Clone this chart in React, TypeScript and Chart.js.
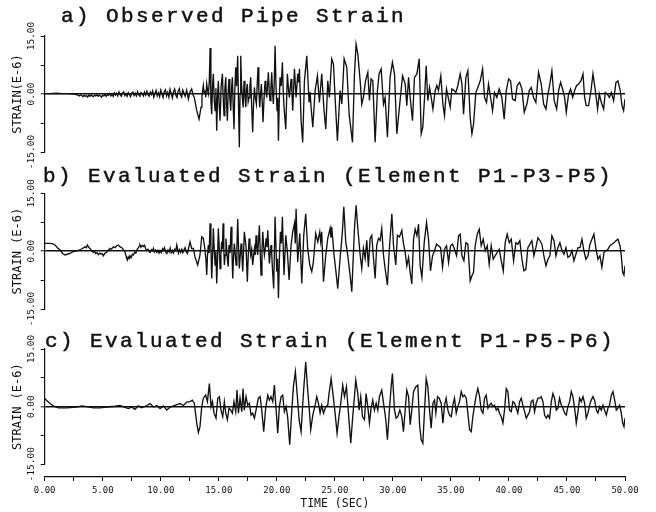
import React, { useEffect, useRef } from 'react';
import { Chart, registerables } from 'chart.js';

Chart.register(...registerables);

// [time (sec), strain (E-6)]
const observedPipeStrain: [number, number][] = [
  [0,0.1],[0.5,0.1],[1,0.2],[1.5,0.1],[2,0.1],[2.5,0],[2.8,-0.2],[3,-0.5],[3.1,-0.2],[3.2,-0.4],
  [3.3,-0.7],[3.4,-0.3],[3.5,-0.6],[3.6,-0.4],[3.7,-0.8],[3.8,-0.3],[3.9,-0.6],[4,-0.2],[4.1,-0.5],[4.2,-0.7],
  [4.3,-0.3],[4.4,-0.5],[4.5,-0.2],[4.6,-0.6],[4.7,-0.3],[4.8,-0.5],[4.9,-0.8],[5,-0.3],[5.1,-0.5],[5.2,-0.1],
  [5.3,-0.6],[5.4,-0.2],[5.5,-0.3],[5.6,0.1],[5.7,-0.5],[5.8,-0.1],[5.9,-0.6],[6,0.3],[6.1,-0.3],[6.2,0.2],
  [6.3,-0.5],[6.4,0.5],[6.5,-0.2],[6.6,-0.6],[6.7,0.3],[6.8,0.6],[6.9,-0.4],[7,0.1],[7.1,-0.6],[7.2,0.4],
  [7.3,-0.2],[7.4,-0.7],[7.5,0.3],[7.6,0.5],[7.7,-0.4],[7.8,0.2],[7.9,-0.5],[8,0.6],[8.1,-0.2],[8.2,-0.6],
  [8.3,0.4],[8.4,0.1],[8.5,-0.5],[8.6,0.5],[8.7,-0.3],[8.8,0.7],[8.9,-0.2],[9,-0.6],[9.1,0.5],[9.2,-0.1],
  [9.3,0.8],[9.4,-0.8],[9.5,0.2],[9.6,0.9],[9.7,-0.5],[9.8,0.3],[9.9,-0.7],[10,1.0],[10.1,0],[10.2,-0.9],
  [10.3,0.6],[10.4,1.1],[10.5,-0.5],[10.6,0.4],[10.7,-0.8],[10.8,1.2],[10.9,0.1],[11,-1.0],[11.1,0.6],[11.2,1.3],
  [11.3,-0.3],[11.4,-0.9],[11.5,0.8],[11.6,1.4],[11.7,-0.2],[11.8,-0.8],[11.9,1.0],[12,0.2],[12.1,-0.6],[12.23,1.0],
  [12.38,-1.3],[12.5,0.4],[12.66,1.3],[12.78,-0.2],[12.89,-0.9],[13.1,-4.3],[13.3,-6.5],[13.47,-3.4],[13.55,-0.5],[13.67,2.2],
  [13.74,0.2],[13.81,0.9],[13.88,-0.8],[13.96,2.6],[14.03,1.0],[14.1,0],[14.18,3.0],[14.25,11.9],[14.32,-2.0],[14.39,-5.2],
  [14.46,2.0],[14.53,5.2],[14.6,-1.0],[14.68,-4.3],[14.75,1.5],[14.82,-9.5],[14.89,-1.0],[14.96,3.4],[15.03,-2.5],[15.11,-6.9],
  [15.2,2.0],[15.31,5.2],[15.38,-1.0],[15.45,-5.6],[15.52,1.0],[15.6,4.3],[15.67,-2.5],[15.74,-6.9],[15.81,0.5],[15.88,3.9],
  [15.95,-1.0],[16.03,-4.3],[16.1,1.5],[16.17,4.3],[16.24,-3.0],[16.31,-9.1],[16.38,1.0],[16.46,6.9],[16.53,2.0],[16.63,9.9],
  [16.7,-3.0],[16.77,-13.8],[16.83,0],[16.89,9.9],[16.96,2.5],[17.03,-0.9],[17.1,-3.5],[17.18,3.4],[17.25,0],[17.32,-3.4],
  [17.39,1.0],[17.46,2.6],[17.53,-2.0],[17.61,-0.9],[17.68,2.0],[17.75,4.3],[17.83,-3.0],[17.92,-9.9],[18,-2.0],[18.07,1.7],
  [18.15,-1.0],[18.24,-2.6],[18.31,2.5],[18.38,6.9],[18.45,1.0],[18.53,-3.4],[18.6,0],[18.67,2.6],[18.74,-2.0],[18.81,-7.3],
  [18.9,-1.0],[18.99,3.4],[19.06,1.0],[19.13,-0.9],[19.2,2.0],[19.27,5.6],[19.35,0.5],[19.42,-1.7],[19.49,1.5],[19.56,5.6],
  [19.63,0.5],[19.7,-2.6],[19.78,3.0],[19.85,12.5],[19.93,2.0],[20.02,-4.3],[20.08,-1.0],[20.14,-12.1],[20.21,-2.0],[20.28,4.3],
  [20.38,2.0],[20.48,8.2],[20.55,1.0],[20.62,-3.4],[20.77,-9.1],[20.91,5.2],[21.0,1.5],[21.08,-0.9],[21.23,3.9],[21.3,0.5],
  [21.37,-4.3],[21.52,6.5],[21.66,-0.9],[21.8,5.2],[21.88,3.0],[21.95,6.5],[22.09,-6.9],[22.23,-12.5],[22.38,3.4],[22.58,9.9],
  [22.78,-2.2],[22.87,0.5],[22.95,-3.4],[23.1,-8.6],[23.3,0.9],[23.5,4.7],[23.67,-2.2],[23.87,5.2],[24.07,-4.3],[24.22,-9.1],
  [24.39,3.4],[24.53,-0.9],[24.73,9.1],[24.88,7.8],[25.02,-0.9],[25.22,-12.1],[25.45,0.9],[25.6,-2.6],[25.8,9.1],[26.03,6.9],
  [26.23,-5.2],[26.52,-12.5],[26.69,5.2],[26.83,12.9],[26.98,10.3],[27.18,3.4],[27.32,-2.6],[27.46,-0.9],[27.64,3.4],[27.84,5.6],
  [27.98,-1.7],[28.12,3.9],[28.27,3.4],[28.47,-12.5],[28.67,0.9],[28.81,5.2],[28.99,6.5],[29.19,-2.6],[29.33,-0.9],[29.53,-11.2],
  [29.76,4.3],[29.96,8.2],[30.14,5.2],[30.34,-10.3],[30.62,-1.7],[30.83,4.7],[31.06,2.6],[31.2,-3.0],[31.35,4.3],[31.49,-0.9],
  [31.69,-6.9],[31.86,4.3],[32.07,5.2],[32.27,9.1],[32.44,-10.3],[32.58,-8.6],[32.73,-0.9],[32.87,7.3],[33.01,-1.7],[33.16,1.7],
  [33.3,-0.9],[33.45,-3.9],[33.65,0.9],[33.79,2.2],[33.93,0.9],[34.13,4.7],[34.31,-2.6],[34.45,-5.6],[34.62,1.3],[34.8,-1.3],
  [34.94,-3.4],[35.08,1.3],[35.23,1.0],[35.43,0.4],[35.6,2.2],[35.8,5.2],[35.95,2.6],[36.09,-5.2],[36.29,4.3],[36.46,6.0],
  [36.66,-6.0],[36.81,-10.3],[36.95,-7.8],[37.15,0.4],[37.32,1.7],[37.53,3.4],[37.73,6.5],[37.9,-0.9],[38.07,-2.2],[38.24,2.6],
  [38.42,-0.9],[38.59,-4.3],[38.76,0.4],[38.96,-0.9],[39.16,1.3],[39.39,-0.9],[39.59,-6.5],[39.77,0.9],[39.97,3.9],[40.14,3.4],
  [40.31,-1.3],[40.54,-1.7],[40.71,2.2],[40.92,3.0],[41.12,1.3],[41.32,-4.7],[41.55,-2.6],[41.75,0.9],[41.92,1.7],[42.12,-0.9],
  [42.32,-2.2],[42.55,5.6],[42.78,2.6],[42.99,-2.6],[43.19,-3.9],[43.36,0],[43.53,2.6],[43.7,6.0],[43.9,-1.7],[44.11,-3.9],
  [44.28,0.9],[44.45,3.0],[44.62,1.3],[44.8,-0.9],[44.94,-4.7],[45.14,0],[45.31,1.3],[45.49,-0.9],[45.66,0.9],[45.83,2.2],
  [46,2.6],[46.2,3.4],[46.38,5.2],[46.52,-0.9],[46.66,-3.0],[46.86,-3.0],[47.07,0.9],[47.24,5.2],[47.44,0.9],[47.64,-3.9],
  [47.78,0],[47.96,-2.2],[48.16,-3.9],[48.3,0.4],[48.47,0],[48.65,-0.9],[48.82,0.4],[49.02,-1.7],[49.22,3.0],[49.39,3.4],
  [49.59,0.9],[49.74,-3.0],[49.88,-4.3],[50,-1.3],
];

const evaluatedStrainP1P3P5: [number, number][] = [
  [0,2.0],[0.46,2.0],[0.7,1.9],[0.89,1.6],[1.1,0.9],[1.32,0.3],[1.55,-0.6],[1.75,-1.0],[1.95,-0.8],[2.18,-0.6],
  [2.4,-0.2],[2.61,0],[2.8,0.1],[3.04,0.3],[3.25,0.7],[3.47,1.1],[3.58,0.9],[3.68,1.6],[3.8,1.0],[3.9,0.7],
  [4.05,0.1],[4.19,-0.3],[4.3,-0.1],[4.4,-0.6],[4.5,-0.4],[4.62,-0.9],[4.75,-0.5],[4.85,-0.8],[4.95,-0.6],[5.05,-1.2],
  [5.2,-0.5],[5.34,-0.3],[5.5,0.3],[5.63,0.7],[5.75,0.5],[5.92,1.1],[6.05,0.9],[6.2,1.4],[6.35,1.6],[6.5,1.1],
  [6.64,0.9],[6.8,0.3],[6.92,-0.2],[7.02,-1.4],[7.12,-2.3],[7.2,-1.5],[7.28,-1.9],[7.35,-1.2],[7.45,-1.7],[7.55,-0.8],
  [7.64,-1.0],[7.75,-0.3],[7.85,-0.5],[7.93,0.3],[8.05,0.8],[8.15,1.3],[8.21,1.6],[8.3,1.0],[8.4,1.5],[8.5,1.2],
  [8.6,1.5],[8.7,0.6],[8.79,0.3],[8.9,0.5],[9,-0.2],[9.08,-0.3],[9.2,0.4],[9.3,0.1],[9.37,0.7],[9.45,-0.2],
  [9.55,0.3],[9.66,-0.3],[9.75,0.2],[9.85,-0.5],[9.94,0.1],[10.05,-0.4],[10.15,0.6],[10.23,0.2],[10.32,0.9],[10.42,-0.2],
  [10.52,-0.6],[10.62,0.3],[10.72,-0.2],[10.81,0.8],[10.9,-0.4],[11,0.2],[11.09,-0.5],[11.2,0.5],[11.3,0.1],[11.38,1.6],
  [11.46,0.4],[11.53,-0.5],[11.62,0.4],[11.72,-0.3],[11.82,0.5],[11.9,-0.4],[12,0.3],[12.1,0.9],[12.2,-0.2],[12.3,-0.6],
  [12.4,0.8],[12.52,2.4],[12.66,0.7],[12.81,0.7],[12.95,-1.5],[13.18,-3.6],[13.38,-1.0],[13.53,3.7],[13.67,3.3],[13.81,0.3],
  [13.89,-2.0],[13.96,-6.2],[14.03,-1.0],[14.1,1.6],[14.17,-0.5],[14.25,7.2],[14.32,1.0],[14.39,-7.1],[14.46,-1.5],[14.53,5.9],
  [14.6,1.0],[14.68,-3.6],[14.75,0],[14.82,-8.4],[14.89,-2.0],[14.96,5.9],[15.03,1.5],[15.11,-4.5],[15.18,-1.0],[15.25,2.4],
  [15.31,0.5],[15.37,7.2],[15.43,1.0],[15.48,-3.6],[15.55,-1.0],[15.62,3.3],[15.68,0.5],[15.74,-1.9],[15.81,-4.0],[15.88,1.6],
  [15.97,-0.5],[16.06,6.3],[16.13,0.5],[16.2,-7.1],[16.27,-1.5],[16.34,2.0],[16.41,-0.5],[16.49,-3.6],[16.56,1.0],[16.63,8.3],
  [16.7,1.0],[16.77,-4.5],[16.85,-1.0],[16.92,2.0],[16.99,-1.0],[17.06,-5.3],[17.13,-0.5],[17.2,5.0],[17.28,3.0],[17.35,1.1],
  [17.46,-7.9],[17.54,-1.0],[17.61,3.3],[17.68,1.0],[17.75,-1.0],[17.83,0.5],[17.92,-3.6],[18.07,0.7],[18.14,-1.0],[18.21,4.1],
  [18.28,1.0],[18.35,-1.0],[18.5,6.7],[18.57,0],[18.64,-6.2],[18.72,0],[18.79,5.0],[18.86,1.5],[18.93,-1.0],[19,0.5],
  [19.07,3.3],[19.15,1.0],[19.22,5.4],[19.29,1.0],[19.36,-3.2],[19.43,-0.5],[19.5,1.6],[19.56,-0.5],[19.62,-4.5],[19.73,-9.7],
  [19.85,8.9],[19.99,-5.3],[20.06,-2.0],[20.14,-12.2],[20.22,-2.0],[20.31,5.0],[20.4,2.0],[20.48,8.9],[20.55,1.0],[20.62,-6.2],
  [20.77,4.1],[20.91,-0.2],[21.06,-7.5],[21.23,1.6],[21.37,5.0],[21.52,7.2],[21.59,2.0],[21.66,11.0],[21.8,-2.8],[21.98,4.6],
  [22.15,-8.4],[22.32,4.1],[22.49,9.7],[22.66,0.7],[22.84,-3.6],[23.01,-5.3],[23.15,-2.8],[23.35,4.6],[23.53,2.4],[23.7,5.0],
  [23.78,2.5],[23.87,5.0],[24.02,-7.9],[24.22,-1.0],[24.39,3.3],[24.59,5.9],[24.66,3.5],[24.73,6.3],[24.93,-1.0],[25.08,-4.9],
  [25.25,-9.7],[25.45,-1.9],[25.65,5.0],[25.77,11.5],[25.94,2.4],[26.11,-1.0],[26.31,-6.2],[26.46,-10.5],[26.69,5.9],[26.83,11.9],
  [26.98,5.9],[27.18,-1.0],[27.32,-4.5],[27.46,0.7],[27.61,-1.9],[27.75,2.8],[27.89,-4.1],[28.04,3.3],[28.18,4.1],[28.33,-1.9],
  [28.47,-7.1],[28.61,1.6],[28.76,3.3],[28.9,2.8],[29.04,5.9],[29.19,-1.0],[29.33,-4.5],[29.53,-8.8],[29.68,-0.2],[29.91,9.7],
  [30.05,1.6],[30.25,-3.6],[30.39,4.1],[30.57,3.7],[30.77,5.4],[30.91,2.0],[31.06,-0.3],[31.2,-3.8],[31.35,-1.6],[31.49,-5.5],
  [31.63,-8.5],[31.78,3.1],[31.92,5.7],[32.07,4.0],[32.21,7.0],[32.35,-3.8],[32.5,-6.8],[32.7,2.2],[32.9,7.4],[33.07,3.1],
  [33.24,-5.1],[33.42,-1.2],[33.59,0.1],[33.76,1.8],[33.93,1.4],[34.11,0.9],[34.28,-4.2],[34.45,0.5],[34.62,1.4],[34.8,-2.9],
  [34.97,1.4],[35.14,1.8],[35.31,0.5],[35.49,-1.2],[35.66,4.0],[35.8,4.4],[35.95,-1.2],[36.12,-2.5],[36.29,2.2],[36.46,1.8],
  [36.66,-7.7],[36.81,-6.4],[36.95,-5.5],[37.09,1.4],[37.27,4.4],[37.44,5.7],[37.61,1.4],[37.78,3.1],[37.96,0.1],[38.13,1.4],
  [38.3,-3.4],[38.47,1.4],[38.65,-2.1],[38.82,-1.2],[38.99,-0.3],[39.16,0.5],[39.34,-2.5],[39.51,-5.1],[39.68,2.2],[39.85,4.4],
  [40.03,2.2],[40.2,3.1],[40.4,-2.5],[40.6,2.2],[40.77,1.8],[40.94,2.7],[41.12,-2.1],[41.29,-5.1],[41.46,-4.7],[41.63,0.9],
  [41.81,1.8],[41.98,2.7],[42.15,-1.2],[42.32,0.9],[42.5,3.5],[42.67,2.7],[42.84,1.8],[43.01,-1.2],[43.19,-3.8],[43.36,-2.1],
  [43.53,-1.2],[43.7,4.0],[43.88,2.7],[44.05,-1.2],[44.22,0.9],[44.39,2.2],[44.57,0.1],[44.74,-0.8],[44.91,0.9],[45.08,-1.6],
  [45.26,-1.2],[45.43,0.1],[45.6,-2.5],[45.77,-0.8],[45.95,0.9],[46.12,0.9],[46.29,3.1],[46.46,0.1],[46.63,-2.1],[46.81,-1.2],
  [46.98,1.8],[47.15,3.1],[47.32,4.4],[47.5,0.5],[47.67,-2.1],[47.84,-1.2],[48.01,-4.2],[48.19,-0.3],[48.36,0.1],[48.53,0.5],
  [48.7,1.4],[48.88,1.8],[49.05,2.2],[49.22,2.7],[49.39,3.1],[49.57,1.4],[49.68,-1.2],[49.8,-5.5],[49.91,-6.2],[50,-3.8],
];

const evaluatedStrainP1P5P6: [number, number][] = [
  [0,2.1],[0.17,1.6],[0.46,0.8],[0.74,0.2],[1.18,-0.3],[1.89,-0.3],[2.75,-0.1],[3.19,0.2],[3.62,0],[4.19,-0.3],
  [4.77,-0.3],[5.34,-0.1],[6.06,0.1],[6.49,0.3],[7.21,-0.5],[7.49,-0.1],[7.78,-0.7],[8.07,0.2],[8.36,-0.3],[8.79,0.3],
  [9.08,0.8],[9.37,-0.1],[9.66,0.3],[9.94,-0.5],[10.23,0.2],[10.52,-0.9],[10.81,-0.1],[11.09,0.2],[11.38,0.5],[11.67,0.8],
  [11.95,0.3],[12.24,1.2],[12.52,1.3],[12.72,1.7],[12.89,0.9],[13.1,-4.3],[13.24,-6.7],[13.38,-5.2],[13.53,0],[13.67,2.2],
  [13.87,3.0],[14.02,1.3],[14.19,6.0],[14.33,0],[14.45,1.3],[14.59,-1.7],[14.76,-3.0],[14.91,2.2],[15.05,2.6],[15.19,-0.9],
  [15.34,-2.6],[15.48,1.3],[15.6,-1.7],[15.74,-3.4],[15.88,-0.4],[16.03,-0.9],[16.17,-1.7],[16.31,1.3],[16.46,-1.3],[16.57,4.3],
  [16.69,-1.7],[16.83,2.2],[16.98,-1.3],[17.09,4.7],[17.2,-0.9],[17.35,2.6],[17.49,0.4],[17.64,0.9],[17.78,-2.2],[17.92,-1.7],
  [18.07,-3.0],[18.21,-0.9],[18.41,2.2],[18.56,2.6],[18.7,-0.9],[18.87,-6.5],[19.04,-0.4],[19.22,3.0],[19.36,1.7],[19.5,2.6],
  [19.65,1.3],[19.79,5.6],[19.93,-0.4],[20.08,-6.9],[20.22,0],[20.37,2.6],[20.51,3.0],[20.65,-1.3],[20.8,0],[20.94,-3.0],
  [21.11,-9.9],[21.29,-0.9],[21.43,5.2],[21.6,9.1],[21.77,2.6],[21.92,-3.4],[22.09,-6.5],[22.29,3.4],[22.49,11.6],[22.66,4.3],
  [22.78,0],[22.92,-6.0],[23.1,-2.2],[23.3,0.4],[23.44,2.6],[23.58,0.9],[23.73,-1.7],[23.87,0.4],[24.02,-1.7],[24.22,0],
  [24.39,0.4],[24.5,3.4],[24.68,7.3],[24.85,3.0],[25.02,-1.7],[25.19,-6.9],[25.37,-2.2],[25.51,0.9],[25.68,5.6],[25.83,2.6],
  [26,5.2],[26.17,-1.7],[26.37,-9.5],[26.54,-2.6],[26.69,2.6],[26.8,6.9],[26.98,3.4],[27.09,-0.9],[27.23,2.6],[27.38,-2.6],
  [27.55,-3.4],[27.69,3.4],[27.84,0],[27.98,-4.3],[28.12,-0.4],[28.27,1.7],[28.41,-0.9],[28.56,0.9],[28.7,-0.9],[28.84,2.6],
  [29.04,4.3],[29.22,0.4],[29.39,-3.4],[29.53,-8.6],[29.7,-0.9],[29.85,5.2],[29.96,8.6],[30.14,-0.9],[30.28,-3.0],[30.42,-2.6],
  [30.6,-0.9],[30.77,-2.6],[30.91,-6.5],[31.2,4.3],[31.35,2.6],[31.49,-4.7],[31.63,-0.9],[31.78,3.9],[31.98,5.2],[32.15,5.6],
  [32.3,-4.7],[32.44,-8.6],[32.58,-9.5],[32.73,-0.9],[32.87,7.3],[33.01,5.2],[33.16,-0.9],[33.3,-5.6],[33.45,0.9],[33.59,1.7],
  [33.7,-1.7],[33.85,2.6],[33.99,2.2],[34.16,0.9],[34.31,-4.3],[34.45,0.4],[34.59,2.2],[34.74,-0.9],[34.88,-2.2],[35.03,-2.6],
  [35.17,0.4],[35.31,2.2],[35.46,-1.7],[35.6,0],[35.74,1.3],[35.89,3.9],[36.03,2.6],[36.17,3.0],[36.32,2.2],[36.46,-1.7],
  [36.61,-6.0],[36.75,-6.5],[36.89,-2.6],[37.04,0.4],[37.18,3.0],[37.32,4.7],[37.47,2.6],[37.61,-0.9],[37.76,-1.7],[37.9,2.2],
  [38.04,3.0],[38.19,-0.4],[38.33,0.4],[38.47,0.9],[38.62,0],[38.76,0.4],[38.91,-0.9],[39.05,-0.4],[39.19,-1.7],[39.34,-2.6],
  [39.48,-4.3],[39.62,-0.9],[39.77,4.7],[39.91,3.9],[40.05,-0.9],[40.2,-1.3],[40.34,1.3],[40.49,0.9],[40.63,-0.4],[40.77,-1.7],
  [40.92,1.3],[41.06,2.2],[41.2,0.4],[41.35,-1.3],[41.49,-3.0],[41.63,-2.2],[41.78,-1.3],[41.92,1.3],[42.07,1.7],[42.21,-1.3],
  [42.35,0.9],[42.5,2.2],[42.64,2.2],[42.78,2.6],[42.93,1.3],[43.07,-2.2],[43.22,-3.0],[43.36,-2.2],[43.5,-3.0],[43.65,1.3],
  [43.79,3.4],[43.93,2.2],[44.08,-0.9],[44.22,-0.4],[44.36,2.2],[44.51,0.4],[44.65,-0.4],[44.8,-1.7],[44.94,-2.2],[45.08,0],
  [45.23,1.3],[45.37,3.9],[45.51,2.6],[45.66,-0.4],[45.8,-4.3],[45.95,-1.3],[46.09,2.2],[46.23,1.3],[46.38,2.6],[46.52,0.9],
  [46.66,-3.0],[46.81,-1.7],[46.95,0.4],[47.09,1.7],[47.24,2.6],[47.38,1.7],[47.53,-0.9],[47.67,-1.7],[47.81,0],[47.96,-0.9],
  [48.1,0.4],[48.24,-0.9],[48.39,-2.2],[48.53,-0.4],[48.67,0.4],[48.82,3.0],[48.96,3.9],[49.11,1.7],[49.25,-0.9],[49.39,-0.4],
  [49.54,0.4],[49.68,-1.7],[49.8,-4.3],[49.91,-5.2],[50,-3.0],
];

const strainTickValues = [-15, -7.5, 0, 7.5, 15];
const strainTickLabels = ['-15.00', '', '0.00', '', '15.00'];
const timeTickValues = [0, 2.5, 5, 7.5, 10, 12.5, 15, 17.5, 20, 22.5, 25, 27.5, 30, 32.5, 35, 37.5, 40, 42.5, 45, 47.5, 50];
const timeTickLabels = ['0.00', '', '5.00', '', '10.00', '', '15.00', '', '20.00', '', '25.00', '', '30.00', '', '35.00', '', '40.00', '', '45.00', '', '50.00'];

const panelTitles = [
  'a) Observed Pipe Strain',
  'b) Evaluated Strain (Element P1-P3-P5)',
  'c) Evaluated Strain (Element P1-P5-P6)',
];
const strainAxisTitles = ['STRAIN(E-6)', 'STRAIN (E-6)', 'STRAIN (E-6)'];
const timeAxisTitle = 'TIME (SEC)';

const W = 656;
const H = 512;
const INK = '#111111';
const PLOT_LEFT = 44.7;
const PLOT_RIGHT = 625;

const panelLayout = [
  { top: 36, bottom: 152, titleX: 61, titleY: 22 },
  { top: 193.3, bottom: 309, titleX: 43, titleY: 182 },
  { top: 349, bottom: 464.3, titleX: 45, titleY: 347 },
];
const panelSeries = [observedPipeStrain, evaluatedStrainP1P3P5, evaluatedStrainP1P5P6];

const panelTextPlugin = {
  id: 'panelText',
  afterDraw(chart: any, _args: any, opts: any) {
    const ctx: CanvasRenderingContext2D = chart.ctx;
    const y = chart.scales.y;
    ctx.save();
    ctx.fillStyle = INK;
    ctx.strokeStyle = INK;
    ctx.font = '21px "Liberation Mono", "DejaVu Sans Mono", monospace';
    (ctx as any).letterSpacing = '2.4px';
    ctx.textAlign = 'left';
    ctx.textBaseline = 'alphabetic';
    ctx.lineWidth = 0.5;
    ctx.fillText(opts.title, opts.titleX, opts.titleY);
    ctx.strokeText(opts.title, opts.titleX, opts.titleY);
    (ctx as any).letterSpacing = '0px';
    ctx.font = '9.5px "DejaVu Sans Mono", monospace';
    ctx.textAlign = 'center';
    ctx.textBaseline = 'middle';
    strainTickValues.forEach((v, i) => {
      const label = strainTickLabels[i];
      if (!label) return;
      const py = y.getPixelForValue(v);
      ctx.save();
      ctx.translate(32, py);
      ctx.rotate(-Math.PI / 2);
      ctx.fillText(label, 0, 0);
      ctx.restore();
    });
    ctx.restore();
  },
};

function panelConfig(idx: number): any {
  const lay = panelLayout[idx];
  const series = panelSeries[idx];
  return {
    type: 'line',
    data: {
      datasets: [
        {
          data: series.map(([t, v]) => ({ x: t, y: v })),
          borderColor: INK,
          borderWidth: 1.35,
          pointRadius: 0,
          tension: 0,
          fill: false,
        },
      ],
    },
    options: {
      responsive: false,
      animation: false,
      devicePixelRatio: 1,
      layout: { padding: { left: 0, right: W - PLOT_RIGHT, top: lay.top, bottom: H - lay.bottom } },
      plugins: {
        legend: { display: false },
        tooltip: { enabled: false },
        panelText: { title: panelTitles[idx], titleX: lay.titleX, titleY: lay.titleY },
      },
      scales: {
        x: { type: 'linear', min: 0, max: 50, display: false },
        y: {
          type: 'linear',
          min: -15,
          max: 15,
          afterBuildTicks: (s: any) => {
            s.ticks = strainTickValues.map((v) => ({ value: v }));
          },
          afterFit: (s: any) => {
            s.width = PLOT_LEFT;
          },
          ticks: { display: false },
          grid: {
            drawOnChartArea: true,
            drawTicks: true,
            tickLength: 4,
            tickColor: INK,
            tickWidth: 1,
            color: (c: any) => (c.tick && c.tick.value === 0 ? INK : 'rgba(0,0,0,0)'),
            lineWidth: (c: any) => (c.tick && c.tick.value === 0 ? 1.6 : 1),
          },
          border: { display: true, color: INK, width: 1.2 },
          title: {
            display: true,
            text: strainAxisTitles[idx],
            color: INK,
            font: { family: '"DejaVu Sans Mono", monospace', size: 12 },
            padding: { top: 11, bottom: 0 },
          },
        },
      },
    },
    plugins: [panelTextPlugin],
  };
}

function timeAxisConfig(): any {
  return {
    type: 'line',
    data: { datasets: [] },
    options: {
      responsive: false,
      animation: false,
      devicePixelRatio: 1,
      layout: { padding: { left: PLOT_LEFT, right: W - PLOT_RIGHT, top: 476, bottom: 0 } },
      plugins: { legend: { display: false }, tooltip: { enabled: false } },
      scales: {
        x: {
          type: 'linear',
          position: 'bottom',
          min: 0,
          max: 50,
          afterBuildTicks: (s: any) => {
            s.ticks = timeTickValues.map((v) => ({ value: v }));
          },
          afterFit: (s: any) => {
            s.height = 35;
          },
          ticks: {
            autoSkip: false,
            maxRotation: 0,
            minRotation: 0,
            padding: 4,
            color: INK,
            font: { family: '"DejaVu Sans Mono", monospace', size: 9 },
            callback: (_v: any, i: number) => timeTickLabels[i],
          },
          grid: { drawOnChartArea: false, drawTicks: true, tickLength: 4, color: INK, tickColor: INK },
          border: { display: true, color: INK, width: 1.2 },
          title: {
            display: true,
            text: timeAxisTitle,
            color: INK,
            font: { family: '"DejaVu Sans Mono", monospace', size: 11.5 },
            padding: { top: 0, bottom: 1 },
          },
        },
        y: { type: 'linear', display: false, min: 0, max: 1 },
      },
    },
  };
}

export default function App() {
  const refs = [useRef<HTMLCanvasElement>(null), useRef<HTMLCanvasElement>(null), useRef<HTMLCanvasElement>(null), useRef<HTMLCanvasElement>(null)];

  useEffect(() => {
    const charts: Chart[] = [];
    for (let i = 0; i < 3; i++) {
      const c = refs[i].current;
      if (c) charts.push(new Chart(c, panelConfig(i)));
    }
    const ct = refs[3].current;
    if (ct) charts.push(new Chart(ct, timeAxisConfig()));
    return () => charts.forEach((ch) => ch.destroy());
  }, []);

  return (
    <div style={{ position: 'fixed', left: 0, top: 0, width: W, height: H, background: '#fff', overflow: 'hidden' }}>
      {refs.map((r, i) => (
        <canvas key={i} ref={r} width={W} height={H} style={{ position: 'absolute', left: 0, top: 0, width: W, height: H }} />
      ))}
    </div>
  );
}
